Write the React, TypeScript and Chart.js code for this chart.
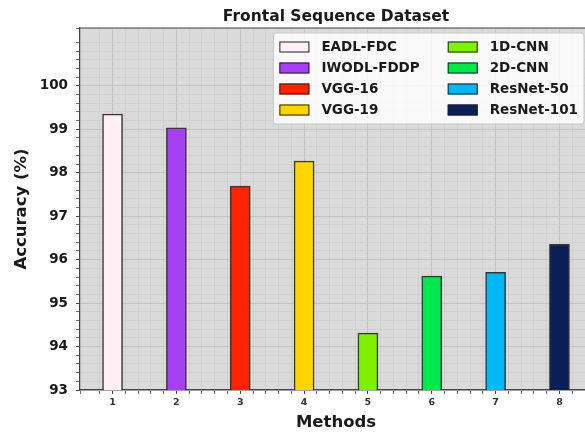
import { useEffect, useRef } from 'react';
import { Chart, registerables } from 'chart.js';

Chart.register(...registerables);

// ---- data ----
const methods = ['EADL-FDC', 'IWODL-FDDP', 'VGG-16', 'VGG-19', '1D-CNN', '2D-CNN', 'ResNet-50', 'ResNet-101'];
const methodPositions = [1, 2, 3, 4, 5, 6, 7, 8];
const accuracy = [99.35, 99.03, 97.69, 98.27, 94.31, 95.62, 95.71, 96.35];
const barColors = ['#fff0f8', '#a640f2', '#ff2400', '#ffd500', '#7ef000', '#00e84e', '#00b6f6', '#0a1f58'];
const yMajorTicks = [93, 94, 95, 96, 97, 98, 99, 100];
const xTickLabels = ['1', '2', '3', '4', '5', '6', '7', '8'];

const FONT = '"DejaVu Sans"';
const TEXT = '#1a1a1a';

export default function App() {
  const ref = useRef<HTMLCanvasElement>(null);

  useEffect(() => {
    if (!ref.current) return;
    const near = (a: number, b: number) => Math.abs(a - b) < 1e-6;
    const isMajorY = (v: number) => yMajorTicks.some((t) => near(t, v));
    const xIndex = (v: number) => methodPositions.findIndex((p) => near(p, v));

    const bgPlugin = {
      id: 'plotBg',
      beforeDraw(chart: any) {
        const { ctx, chartArea: a } = chart;
        ctx.save();
        ctx.fillStyle = '#dadada';
        ctx.fillRect(a.left, a.top, a.right - a.left, a.bottom - a.top);
        ctx.restore();
      },
      afterDraw(chart: any) {
        const { ctx, chartArea: a } = chart;
        ctx.save();
        ctx.strokeStyle = '#444';
        ctx.lineWidth = 1.2;
        ctx.beginPath();
        ctx.moveTo(a.left, a.top);
        ctx.lineTo(a.right, a.top);
        ctx.lineTo(a.right, a.bottom);
        ctx.stroke();
        ctx.restore();
      },
    };

    const legendPlugin = {
      id: 'gridLegend',
      afterDatasetsDraw(chart: any) {
        const { ctx, chartArea: a } = chart;
        const labels = chart.data.labels as string[];
        const colors = chart.data.datasets[0].backgroundColor as string[];
        const rows = 4;
        const cols = Math.ceil(labels.length / rows);
        const sw = 30, sh = 11, gap = 12, padL = 6, padR = 6, colGap = 28, rowH = 21, padT = 3.5;
        ctx.save();
        ctx.font = `bold 13.5px ${FONT}`;
        const colW: number[] = [];
        for (let c = 0; c < cols; c++) {
          let m = 0;
          for (let r = 0; r < rows; r++) {
            const i = c * rows + r;
            if (i < labels.length) m = Math.max(m, ctx.measureText(labels[i]).width);
          }
          colW.push(m);
        }
        let width = padL + padR + colGap * (cols - 1);
        colW.forEach((w) => (width += sw + gap + w));
        const height = padT * 2 + rows * rowH;
        const right = a.right - 8;
        const top = a.top + 5;
        const left = right - width;
        ctx.fillStyle = 'rgba(255,255,255,0.82)';
        ctx.strokeStyle = '#c8c8c8';
        ctx.lineWidth = 1;
        ctx.beginPath();
        if ((ctx as any).roundRect) (ctx as any).roundRect(left, top, width, height, 3);
        else ctx.rect(left, top, width, height);
        ctx.fill();
        ctx.stroke();
        let x = left + padL;
        ctx.textBaseline = 'middle';
        ctx.textAlign = 'left';
        for (let c = 0; c < cols; c++) {
          for (let r = 0; r < rows; r++) {
            const i = c * rows + r;
            if (i >= labels.length) continue;
            const cy = top + padT + rowH * (r + 0.5);
            ctx.fillStyle = colors[i];
            ctx.fillRect(x, cy - sh / 2, sw, sh);
            ctx.strokeStyle = '#222';
            ctx.lineWidth = 1;
            ctx.strokeRect(x + 0.5, cy - sh / 2 + 0.5, sw - 1, sh - 1);
            ctx.fillStyle = TEXT;
            ctx.fillText(labels[i], x + sw + gap, cy + 0.5);
          }
          x += sw + gap + colW[c] + colGap;
        }
        ctx.restore();
      },
    };

    const chart = new Chart(ref.current, {
      type: 'bar',
      data: {
        labels: methods,
        datasets: [
          {
            label: 'Accuracy',
            data: methodPositions.map((p, i) => ({ x: p, y: accuracy[i] })),
            backgroundColor: barColors,
            borderColor: 'rgba(25,25,25,0.85)',
            borderWidth: 1.5,
            barThickness: 20,
          },
        ],
      },
      options: {
        responsive: false,
        animation: false,
        layout: { padding: { left: 0, right: 8, top: 0, bottom: 0 } },
        plugins: {
          legend: { display: false },
          tooltip: { enabled: false },
          title: {
            display: true,
            text: 'Frontal Sequence Dataset',
            fullSize: false,
            color: TEXT,
            font: { family: FONT, size: 15.5, weight: 'bold' },
            padding: { top: 8, bottom: 1.4 },
          },
        },
        scales: {
          x: {
            type: 'linear',
            min: 0.49,
            max: 8.51,
            offset: false,
            afterFit: (s: any) => {
              s.height = 44;
            },
            border: { display: true, color: '#444', width: 1.2 },
            grid: {
              offset: false,
              color: (ctx: any) => (xIndex(ctx.tick?.value) >= 0 ? '#c2c2c2' : '#cdcdcd'),
              lineWidth: (ctx: any) => (xIndex(ctx.tick?.value) >= 0 ? 1 : 0.8),
              drawTicks: true,
              tickLength: 4,
              tickColor: '#444',
            },
            ticks: {
              stepSize: 0.2,
              autoSkip: false,
              maxRotation: 0,
              padding: 3,
              color: '#333',
              font: { family: FONT, size: 9.5, weight: 'bold' },
              callback: (v: any) => {
                const i = xIndex(Number(v));
                return i >= 0 ? xTickLabels[i] : '';
              },
            },
            title: {
              display: true,
              text: 'Methods',
              color: TEXT,
              font: { family: FONT, size: 16.5, weight: 'bold' },
              padding: { top: 0, bottom: 1 },
            },
          },
          y: {
            type: 'linear',
            min: 93,
            max: 101.33,
            afterFit: (s: any) => {
              s.width = 80;
            },
            border: { display: true, color: '#444', width: 1.2 },
            grid: {
              color: (ctx: any) => (isMajorY(ctx.tick?.value) ? '#c2c2c2' : '#cdcdcd'),
              lineWidth: (ctx: any) => (isMajorY(ctx.tick?.value) ? 1 : 0.8),
              drawTicks: true,
              tickLength: 4,
              tickColor: '#444',
            },
            ticks: {
              stepSize: 0.2,
              autoSkip: false,
              padding: 8,
              color: TEXT,
              font: { family: FONT, size: 13.5, weight: 'bold' },
              callback: (v: any) => {
                const n = Number(v);
                const t = yMajorTicks.find((m) => near(m, n));
                return t !== undefined ? String(t) : '';
              },
            },
            title: {
              display: true,
              text: 'Accuracy (%)',
              color: TEXT,
              font: { family: FONT, size: 16.5, weight: 'bold' },
              padding: { top: 12, bottom: 0 },
            },
          },
        },
      },
      plugins: [bgPlugin, legendPlugin],
    } as any);

    return () => chart.destroy();
  }, []);

  return (
    <div style={{ position: 'absolute', left: 0, top: 0, width: 585, height: 434, overflow: 'hidden' }}>
      <canvas ref={ref} width={600} height={434} style={{ display: 'block' }} />
    </div>
  );
}
